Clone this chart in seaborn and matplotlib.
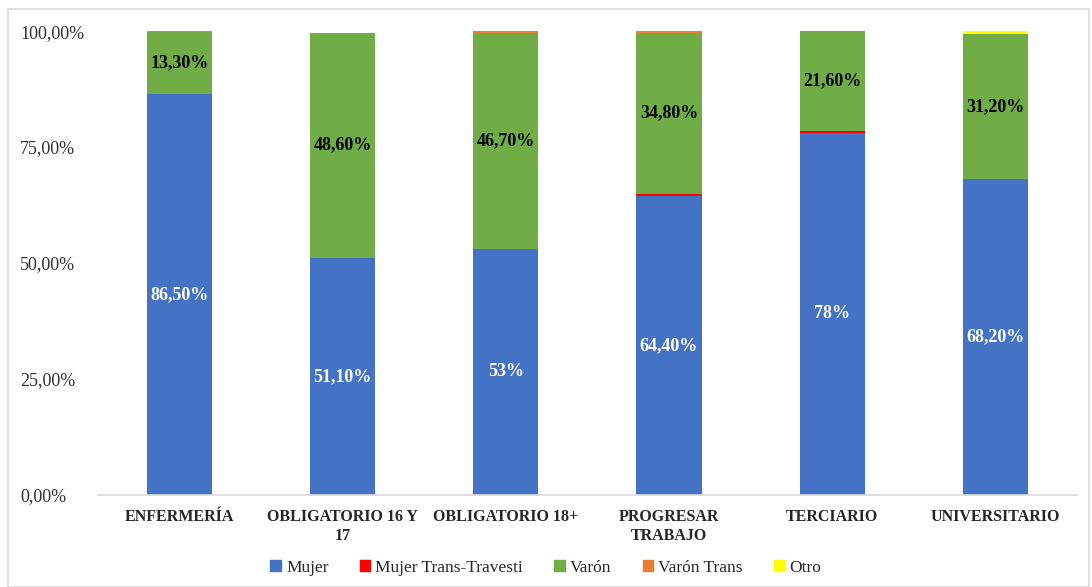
import matplotlib
matplotlib.use("Agg")
import matplotlib.pyplot as plt
import matplotlib.patches as mpatches
import numpy as np
import seaborn as sns

# datos
categorias = ["ENFERMERÍA", "OBLIGATORIO 16 Y\n17", "OBLIGATORIO 18+",
              "PROGRESAR\nTRABAJO", "TERCIARIO", "UNIVERSITARIO"]
mujer = [86.5, 51.1, 53.0, 64.4, 78.0, 68.2]
mujer_trans = [0.0, 0.0, 0.0, 0.5, 0.4, 0.0]
varon = [13.3, 48.6, 46.7, 34.8, 21.6, 31.2]
varon_trans = [0.2, 0.0, 0.3, 0.4, 0.0, 0.0]
otro = [0.0, 0.0, 0.0, 0.0, 0.0, 0.6]
etiquetas_mujer = ["86,50%", "51,10%", "53%", "64,40%", "78%", "68,20%"]
etiquetas_varon = ["13,30%", "48,60%", "46,70%", "34,80%", "21,60%", "31,20%"]
yticks = [0, 25, 50, 75, 100]
ytick_labels = ["0,00%", "25,00%", "50,00%", "75,00%", "100,00%"]

series = [
    ("Mujer", mujer, "#4472C4"),
    ("Mujer Trans-Travesti", mujer_trans, "#FF0000"),
    ("Varón", varon, "#70AD47"),
    ("Varón Trans", varon_trans, "#ED7D31"),
    ("Otro", otro, "#FFFF00"),
]

sns.set_style("white")
plt.rcParams["font.family"] = ["Liberation Serif", "DejaVu Serif"]

fig = plt.figure(figsize=(10.92, 5.87), dpi=100)
ax = fig.add_axes([0.0897, 0.157, 0.8965, 0.79])

# borde del gráfico
fig.patches.append(mpatches.Rectangle((0.007, 0.0), 0.99, 0.985, transform=fig.transFigure,
                                      fill=False, edgecolor="#D9D9D9", linewidth=1.2))

x = np.arange(len(categorias))
acum = np.zeros(len(categorias))
handles = []
for nombre, valores, color in series:
    sns.barplot(x=x, y=valores, bottom=acum, color=color, width=0.4, saturation=1,
                order=list(x), ax=ax, linewidth=0)
    handles.append(mpatches.Patch(color=color, label=nombre))
    if nombre == "Mujer":
        for i, v in enumerate(valores):
            ax.text(i, acum[i] + v / 2, etiquetas_mujer[i], ha="center", va="center",
                    color="white", fontsize=13, fontweight="bold")
    if nombre == "Varón":
        for i, v in enumerate(valores):
            ax.text(i, acum[i] + v / 2, etiquetas_varon[i], ha="center", va="center",
                    color="black", fontsize=13, fontweight="bold")
    acum = acum + np.array(valores)

ax.set_ylim(0, 100)
ax.set_xlim(-0.5, len(categorias) - 0.5)
ax.set_yticks(yticks)
ax.set_yticklabels(ytick_labels, fontsize=13, color="#303030")
ax.set_xticks(x)
ax.set_xticklabels(categorias, fontsize=11.5, fontweight="bold", linespacing=1.3)
ax.tick_params(axis="x", length=0, pad=10)
for lab in ax.get_yticklabels():
    lab.set_horizontalalignment("left")
ax.tick_params(axis="y", length=0, pad=56)
ax.set_xlabel("")
ax.set_ylabel("")
for s in ["top", "right", "left"]:
    ax.spines[s].set_visible(False)
ax.spines["bottom"].set_color("#D9D9D9")
ax.spines["bottom"].set_linewidth(1.2)

fig.legend(handles=handles, loc="center", bbox_to_anchor=(0.5, 0.033), ncol=5,
           frameon=False, fontsize=12.5, handlelength=0.6, handleheight=0.6,
           handletextpad=0.3, columnspacing=1.8)

fig.savefig("out.png", dpi=100)
